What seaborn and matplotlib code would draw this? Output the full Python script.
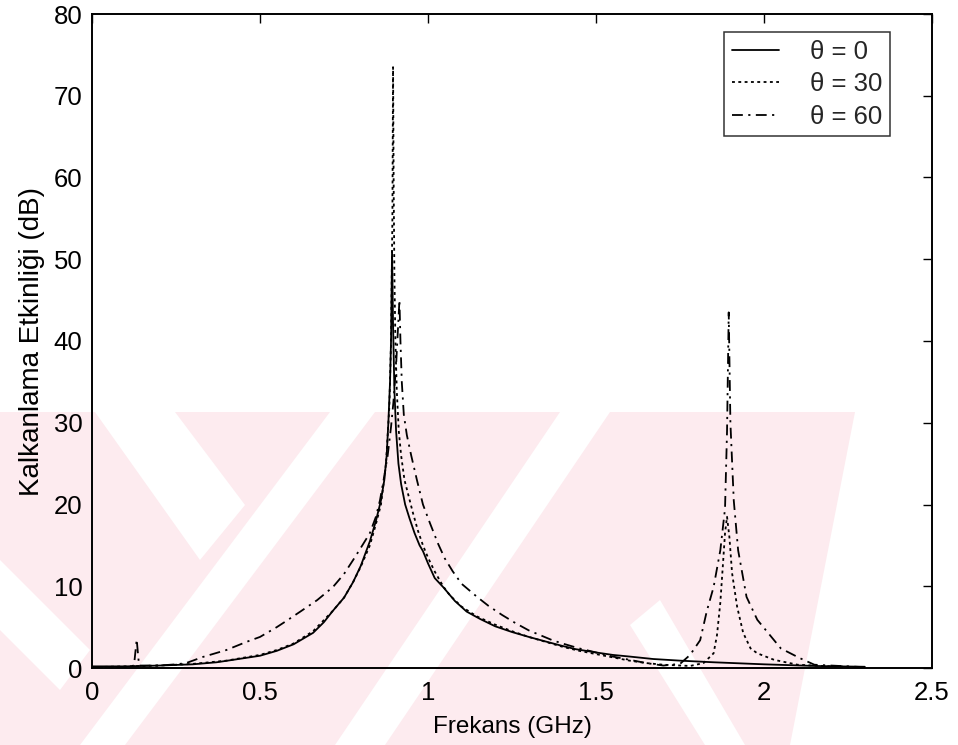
import numpy as np
import pandas as pd
import matplotlib
matplotlib.use("Agg")
import matplotlib.pyplot as plt
import seaborn as sns
from matplotlib.patches import Polygon
from matplotlib.lines import Line2D

# Shielding effectiveness (dB) versus frequency (GHz) for three incidence angles
freq_0 = [0.0, 0.1, 0.2, 0.3, 0.371, 0.42, 0.5, 0.55, 0.6, 0.658, 0.69, 0.717,
          0.75, 0.777, 0.8, 0.827, 0.845, 0.86, 0.87, 0.877, 0.882, 0.887,
          0.89, 0.893, 0.896, 0.9, 0.905, 0.912, 0.92, 0.932, 0.945, 0.96,
          0.975, 0.985, 1.0, 1.02, 1.045, 1.08, 1.115, 1.155, 1.2, 1.25, 1.3,
          1.354, 1.4, 1.44, 1.5, 1.55, 1.6, 1.67, 1.75, 1.85, 2.0, 2.15, 2.3]
se_0 = [0.2, 0.2, 0.3, 0.45, 0.7, 1.0, 1.5, 2.1, 2.9, 4.3, 5.6, 7.0,
        8.6, 10.5, 12.5, 15.5, 18.0, 20.5, 23.0, 26.0, 30.0, 35.0,
        40.0, 51.0, 42.0, 34.0, 29.0, 25.0, 22.5, 20.0, 18.3, 16.5,
        15.0, 14.3, 12.8, 11.0, 9.9, 8.2, 6.9, 6.0, 5.1, 4.4, 3.8,
        3.2, 2.7, 2.3, 1.9, 1.6, 1.4, 1.1, 0.9, 0.7, 0.45, 0.25, 0.15]

freq_30 = [0.0, 0.2, 0.3, 0.4, 0.5, 0.55, 0.6, 0.658, 0.717, 0.75, 0.777, 0.8,
           0.827, 0.845, 0.86, 0.875, 0.885, 0.89, 0.894, 0.896, 0.898, 0.9,
           0.903, 0.907, 0.913, 0.92, 0.93, 0.94, 0.955, 0.97, 0.985, 1.0,
           1.02, 1.045, 1.065, 1.1, 1.146, 1.2, 1.25, 1.3, 1.35, 1.4, 1.45,
           1.5, 1.55, 1.6, 1.65, 1.7, 1.78, 1.82, 1.85, 1.86, 1.87, 1.878,
           1.884, 1.89, 1.897, 1.905, 1.92, 1.938, 1.96, 1.98, 2.03, 2.1,
           2.2, 2.3]
se_30 = [0.1, 0.3, 0.5, 0.9, 1.6, 2.2, 3.0, 4.5, 7.0, 8.6, 10.5, 12.4,
         15.0, 17.6, 20.0, 25.0, 32.0, 40.0, 55.0, 73.5, 58.0, 48.0,
         40.0, 34.0, 29.0, 26.0, 23.0, 21.4, 19.0, 16.8, 15.0, 13.5,
         11.8, 10.0, 8.9, 7.5, 6.3, 5.3, 4.5, 3.8, 3.2, 2.6, 2.1,
         1.7, 1.3, 0.9, 0.6, 0.4, 0.25, 0.6, 1.8, 4.0, 8.0, 12.8,
         16.5, 18.5, 16.0, 11.6, 7.5, 4.3, 2.4, 1.8, 1.0, 0.4,
         0.2, 0.1]

freq_60 = [0.0, 0.1, 0.125, 0.133, 0.14, 0.2, 0.25, 0.28, 0.33, 0.4, 0.46, 0.5,
           0.55, 0.58, 0.62, 0.67, 0.717, 0.75, 0.777, 0.8, 0.827, 0.845,
           0.857, 0.87, 0.88, 0.89, 0.897, 0.905, 0.91, 0.915, 0.918, 0.922,
           0.928, 0.937, 0.95, 0.967, 0.985, 1.006, 1.03, 1.05, 1.074, 1.1,
           1.146, 1.18, 1.22, 1.26, 1.3, 1.37, 1.4, 1.45, 1.5, 1.55, 1.6,
           1.65, 1.7, 1.75, 1.78, 1.81, 1.83, 1.85, 1.87, 1.884, 1.89, 1.895,
           1.9, 1.91, 1.923, 1.948, 1.98, 2.05, 2.107, 2.15, 2.25, 2.3]
se_60 = [0.1, 0.1, 0.3, 3.5, 0.3, 0.3, 0.45, 0.6, 1.35, 2.2, 3.2, 3.8,
         5.0, 5.8, 6.9, 8.3, 9.9, 11.5, 13.2, 14.7, 16.5, 18.5,
         20.5, 23.5, 26.0, 29.5, 32.5, 37.0, 41.0, 45.0, 40.0, 35.0,
         31.0, 28.5, 26.0, 23.0, 20.0, 17.7, 15.2, 13.4, 11.8, 10.3,
         8.7, 7.6, 6.5, 5.5, 4.6, 3.4, 3.0, 2.4, 1.9, 1.4, 1.0,
         0.6, 0.3, 0.5, 1.6, 3.4, 7.0, 9.9, 14.4, 19.5, 29.0, 43.5,
         30.0, 20.5, 14.4, 8.7, 5.9, 2.4, 1.2, 0.4, 0.2, 0.1]

theta_labels = ["\u03b8 = 0", "\u03b8 = 30", "\u03b8 = 60"]
x_ticks = [0, 0.5, 1, 1.5, 2, 2.5]
x_tick_labels = ["0", "0.5", "1", "1.5", "2", "2.5"]
y_ticks = [0, 10, 20, 30, 40, 50, 60, 70, 80]

sns.set_theme(style="white")
plt.rcParams["font.family"] = ["Liberation Sans", "DejaVu Sans"]

W, H = 958, 745
fig = plt.figure(figsize=(W / 100, H / 100), dpi=100)
fig.patch.set_facecolor("white")
ax = fig.add_axes([92 / W, 1 - 668 / H, 840 / W, 654 / H])
ax.patch.set_alpha(0)

# faint diagonal background pattern in the lower part of the page
def px_poly(pts, color):
    verts = [(x / W, 1 - y / H) for x, y in pts]
    fig.patches.append(Polygon(verts, closed=True, transform=fig.transFigure,
                               facecolor=color, edgecolor="none", zorder=-5))

pink = "#fdebef"
white = "white"
px_poly([(0, 412), (855, 412), (790, 745), (0, 745)], pink)
px_poly([(95, 412), (175, 412), (245, 505), (200, 560)], white)
px_poly([(0, 560), (90, 650), (60, 690), (0, 630)], white)
px_poly([(330, 412), (375, 412), (125, 745), (80, 745)], white)
px_poly([(560, 412), (610, 412), (385, 745), (335, 745)], white)
px_poly([(630, 625), (660, 600), (745, 745), (705, 745)], white)

frames = []
for f, s, lab in [(freq_0, se_0, theta_labels[0]),
                  (freq_30, se_30, theta_labels[1]),
                  (freq_60, se_60, theta_labels[2])]:
    frames.append(pd.DataFrame({"Frekans": f, "SE": s, "theta": lab}))
df = pd.concat(frames, ignore_index=True)

lw = 1.3
dash_map = {theta_labels[0]: "",
            theta_labels[1]: (1.6, 1.9),
            theta_labels[2]: (6.0, 3.0, 1.2, 3.0)}
sns.lineplot(data=df, x="Frekans", y="SE", style="theta", dashes=dash_map,
             color="black", linewidth=lw, sort=False, estimator=None,
             legend=False, ax=ax)

ax.set_xlim(0, 2.5)
ax.set_ylim(0, 80)
ax.set_xticks(x_ticks)
ax.set_xticklabels(x_tick_labels)
ax.set_yticks(y_ticks)
ax.tick_params(direction="in", length=6.5, width=1.0, color="black",
               top=True, right=True, labelsize=18.5, labelcolor="black")
ax.tick_params(axis="x", pad=9)
ax.tick_params(axis="y", pad=7)
for sp in ax.spines.values():
    sp.set_visible(True)
    sp.set_color("black")
    sp.set_linewidth(1.4)

ax.set_xlabel("Frekans (GHz)", fontsize=17.5, color="black", labelpad=8)
ax.set_ylabel("Kalkanlama Etkinli\u011fi (dB)", fontsize=20, color="black",
              labelpad=6)

handles = [Line2D([], [], color="black", lw=lw),
           Line2D([], [], color="black", lw=lw, dashes=dash_map[theta_labels[1]]),
           Line2D([], [], color="black", lw=lw, dashes=dash_map[theta_labels[2]])]
leg = ax.legend(handles, theta_labels, loc="upper left",
                bbox_to_anchor=((724 - 92) / 840, (668 - 32) / 654),
                borderaxespad=0, fontsize=18.5, frameon=True, fancybox=False,
                edgecolor="black", handlelength=1.85, handletextpad=1.2,
                labelspacing=0.33, borderpad=0.3)
leg.get_frame().set_linewidth(1.1)
leg.get_frame().set_facecolor("white")

fig.savefig("out.png", dpi=100)
